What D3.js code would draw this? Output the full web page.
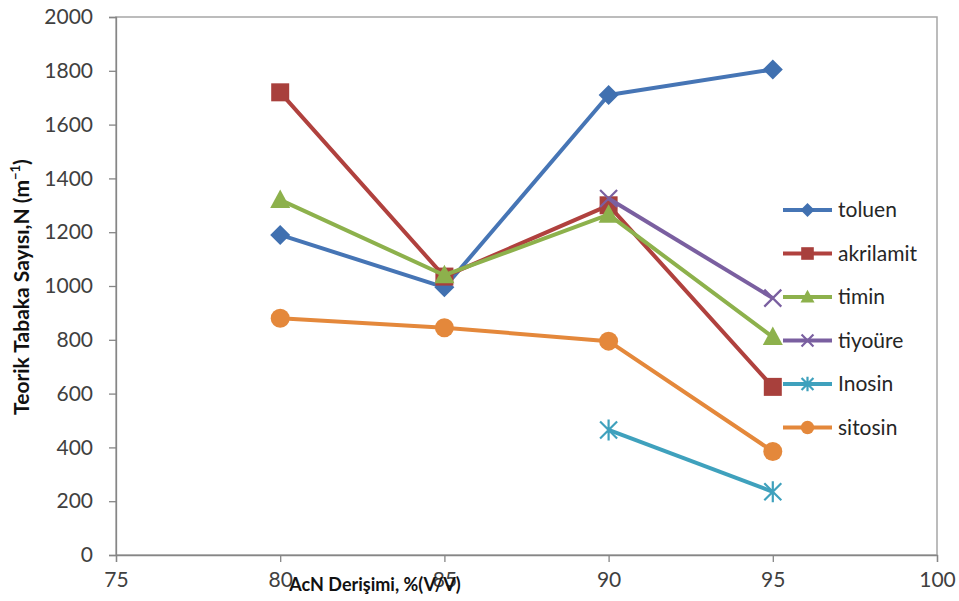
<!DOCTYPE html>
<html><head><meta charset="utf-8">
<script src="https://cdn.jsdelivr.net/npm/d3@7"></script>
<style>body{margin:0;background:#fff}svg{display:block}</style>
</head><body><svg id="c" width="959" height="601"></svg>
<script>
const xCats = [80, 85, 90, 95];
const toluen = [1190, 995, 1710, 1805];
const akrilamit = [1720, 1035, 1300, 625];
const timin = [1320, 1040, 1265, 810];
const tiyoure = [null, null, 1325, 955];
const inosin = [null, null, 465, 235];
const sitosin = [880, 845, 795, 385];
const seriesNames = ["toluen", "akrilamit", "timin", "tiyoüre", "Inosin", "sitosin"];
const xTicks = [75, 80, 85, 90, 95, 100];
const yTicks = [0, 200, 400, 600, 800, 1000, 1200, 1400, 1600, 1800, 2000];

const seriesVals = [toluen, akrilamit, timin, tiyoure, inosin, sitosin];
const colors = ["#4675B5", "#B0413E", "#8DB14C", "#7A5FA0", "#3FA1BD", "#E4883B"];
const markerColors = ["#4070B0", "#A8403C", "#8DB14C", "#7A5FA0", "#3FA1BD", "#E4883B"];
const shapes = ["diamond", "square", "triangle", "x", "star", "circle"];

const svg = d3.select("#c");
const font = "Lato, 'Open Sans', sans-serif";
const x = d3.scaleLinear().domain([75, 100]).range([116, 937]);
const y = d3.scaleLinear().domain([0, 2000]).range([555, 17]);

// frame
svg.append("rect").attr("x", x(75)).attr("y", y(2000)).attr("width", x(100) - x(75)).attr("height", y(0) - y(2000))
  .attr("fill", "none").attr("stroke", "#a6a6a6").attr("stroke-width", 1.5);

const xa = svg.append("g").attr("transform", `translate(0,${y(0)})`)
  .call(d3.axisBottom(x).tickValues(xTicks).tickSize(7).tickPadding(10).tickFormat(d3.format("d")));
const ya = svg.append("g").attr("transform", `translate(${x(75)},0)`)
  .call(d3.axisLeft(y).tickValues(yTicks).tickSize(7).tickPadding(16).tickFormat(d3.format("d")));
[xa, ya].forEach(a => {
  a.select(".domain").attr("stroke", "#868686").attr("stroke-width", 1.3);
  a.selectAll(".tick line").attr("stroke", "#868686").attr("stroke-width", 1.3);
  a.selectAll("text").attr("font-family", font).attr("font-size", 21).attr("fill", "#404040");
});
xa.selectAll("text").attr("dy", "0.71em");

function marker(g, shape, cx, cy, col, s) {
  if (shape === "diamond") {
    g.append("path").attr("d", `M${cx},${cy - s}L${cx + s},${cy}L${cx},${cy + s}L${cx - s},${cy}Z`).attr("fill", col);
  } else if (shape === "square") {
    g.append("rect").attr("x", cx - s * 0.9).attr("y", cy - s * 0.9).attr("width", s * 1.8).attr("height", s * 1.8).attr("fill", col);
  } else if (shape === "triangle") {
    g.append("path").attr("d", `M${cx},${cy - s * 1.05}L${cx + s},${cy + s * 0.8}L${cx - s},${cy + s * 0.8}Z`).attr("fill", col);
  } else if (shape === "circle") {
    g.append("circle").attr("cx", cx).attr("cy", cy).attr("r", s * 0.95).attr("fill", col);
  } else if (shape === "x") {
    const d = s * 0.85;
    g.append("path").attr("d", `M${cx - d},${cy - d}L${cx + d},${cy + d}M${cx - d},${cy + d}L${cx + d},${cy - d}`)
      .attr("stroke", col).attr("stroke-width", 2.2).attr("fill", "none");
  } else if (shape === "star") {
    const d = s * 0.85;
    g.append("path").attr("d", `M${cx - d},${cy - d}L${cx + d},${cy + d}M${cx - d},${cy + d}L${cx + d},${cy - d}M${cx},${cy - s * 1.05}L${cx},${cy + s * 1.05}`)
      .attr("stroke", col).attr("stroke-width", 2.2).attr("fill", "none");
  }
}

const line = d3.line().defined(d => d[1] != null).x(d => x(d[0])).y(d => y(d[1]));
const plot = svg.append("g");
seriesVals.forEach((vals, i) => {
  const pts = xCats.map((c, j) => [c, vals[j]]);
  const g = plot.append("g");
  g.append("path").attr("d", line(pts)).attr("fill", "none").attr("stroke", colors[i])
    .attr("stroke-width", 4).attr("stroke-linejoin", "round");
  pts.filter(p => p[1] != null).forEach(p => marker(g, shapes[i], x(p[0]), y(p[1]), markerColors[i], 10));
});

// legend
const leg = svg.append("g");
seriesNames.forEach((n, i) => {
  const ly = 210 + i * 43.5;
  leg.append("line").attr("x1", 783).attr("x2", 832).attr("y1", ly).attr("y2", ly)
    .attr("stroke", colors[i]).attr("stroke-width", 4);
  marker(leg, shapes[i], 807.5, ly, markerColors[i], 7);
  leg.append("text").attr("x", 838).attr("y", ly).attr("dy", "0.35em").text(n)
    .attr("font-family", font).attr("font-size", 21).attr("fill", "#262626");
});

// axis titles
svg.append("text").attr("x", 375).attr("y", 591).attr("text-anchor", "middle")
  .attr("font-family", font).attr("font-weight", "bold").attr("font-size", 18).attr("fill", "#111")
  .text("AcN Derişimi, %(V/V)");
const yt = svg.append("text").attr("transform", "translate(29,287) rotate(-90)").attr("text-anchor", "middle")
  .attr("font-family", font).attr("font-weight", "bold").attr("font-size", 21).attr("fill", "#111");
yt.append("tspan").text("Teorik Tabaka Sayısı,N (m");
yt.append("tspan").attr("font-size", 13).attr("dy", -9).text("−1");
yt.append("tspan").attr("dy", 9).text(")");
</script></body></html>
